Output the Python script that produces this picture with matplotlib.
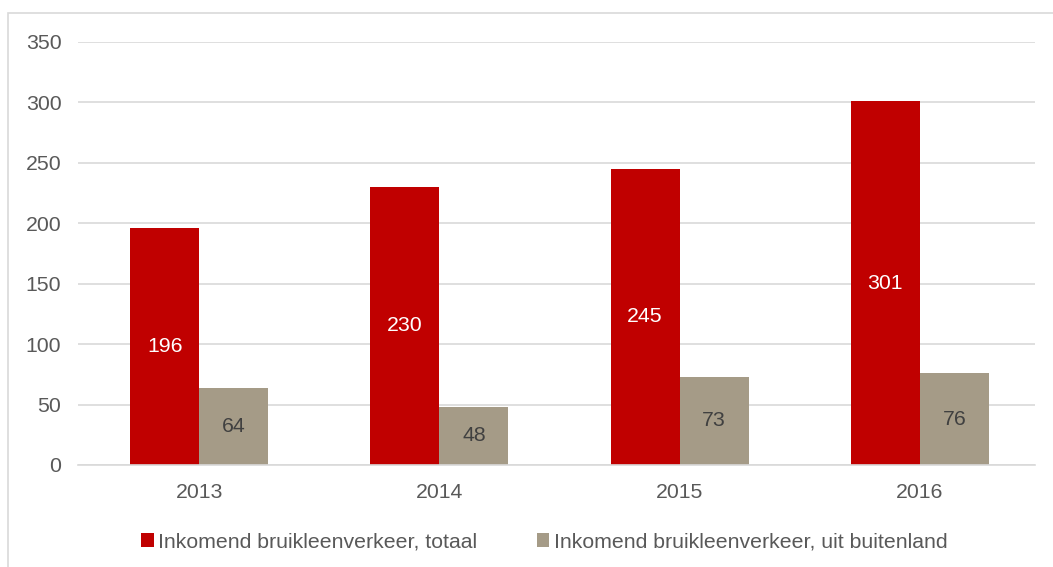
import numpy as np
import matplotlib.pyplot as plt
from matplotlib.patches import Rectangle

plt.rcParams['font.family'] = ['Liberation Sans', 'DejaVu Sans']

years = ['2013', '2014', '2015', '2016']
totaal = [196, 230, 245, 301]
buitenland = [64, 48, 73, 76]
series_names = ['Inkomend bruikleenverkeer, totaal',
                'Inkomend bruikleenverkeer, uit buitenland']

red = '#C00000'
taupe = '#A59B87'
text_col = '#595959'
fs = 15.3

fig = plt.figure(figsize=(10.53, 5.67), dpi=100)
ax = fig.add_axes([0.074, 0.18, 0.909, 0.746])

x = np.arange(len(years))
w = 0.2875
b1 = ax.bar(x - w / 2, totaal, w, color=red, label=series_names[0], zorder=2)
b2 = ax.bar(x + w / 2, buitenland, w, color=taupe, label=series_names[1], zorder=2)

for rect, v in zip(b1, totaal):
    ax.text(rect.get_x() + rect.get_width() / 2, v / 2, str(v),
            ha='center', va='center', color='white', fontsize=fs)
for rect, v in zip(b2, buitenland):
    ax.text(rect.get_x() + rect.get_width() / 2, v / 2, str(v),
            ha='center', va='center', color='#404040', fontsize=fs)

ax.set_ylim(0, 350)
ax.set_yticks(range(0, 351, 50))
ax.set_xlim(-0.505, 3.48)
ax.set_xticks(x)
ax.set_xticklabels(years)
ax.grid(axis='y', color='#D9D9D9', linewidth=1.2, zorder=0)
for s in ['top', 'right', 'left']:
    ax.spines[s].set_visible(False)
ax.spines['bottom'].set_color('#D9D9D9')
ax.spines['bottom'].set_linewidth(1.2)
ax.tick_params(length=0, labelsize=fs, colors=text_col)
ax.tick_params(axis='x', pad=13)
ax.tick_params(axis='y', pad=12)

leg = ax.legend(loc='upper center', bbox_to_anchor=(0.487, -0.115), ncol=2,
                frameon=False, fontsize=fs, handlelength=0.6, handleheight=0.6,
                handletextpad=0.2, columnspacing=2.8)
for t in leg.get_texts():
    t.set_color(text_col)

# chart border
fig.patches.append(Rectangle((0.0076, -0.01), 1.0, 0.987, transform=fig.transFigure,
                             fill=False, edgecolor='#D9D9D9', linewidth=1.2))

fig.savefig('out.png', dpi=100)
